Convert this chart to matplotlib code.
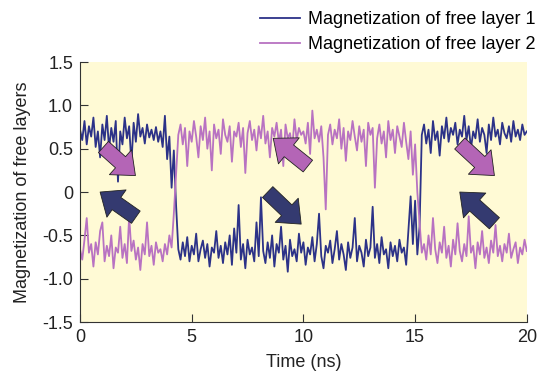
import matplotlib
matplotlib.use("Agg")
import matplotlib.pyplot as plt
from matplotlib.patches import FancyArrowPatch
import numpy as np

plt.rcParams['font.family'] = ['Liberation Sans', 'DejaVu Sans']

# time axis (ns), 0.1 ns steps
time_ns = np.arange(201) / 10.0

# free layer 1
m1 = [0.72, 0.60, 0.82, 0.55, 0.76, 0.64, 0.86, 0.52, 0.70, 0.40,
      0.78, 0.60, 0.88, 0.50, 0.74, 0.58, 0.82, 0.12, 0.70, 0.55,
      0.86, 0.62, 0.76, 0.33, 0.80, 0.58, 0.90, 0.64, 0.74, 0.56,
      0.78, 0.63, 0.72, 0.60, 0.75, 0.58, 0.70, 0.52, 0.88, 0.38,
      0.64, 0.05, 0.48, -0.15, -0.66, -0.78, -0.58, -0.74, -0.52, -0.80,
      -0.62, -0.72, -0.48, -0.80, -0.66, -0.56, -0.76, -0.60, -0.86, -0.64,
      -0.70, -0.45, -0.76, -0.62, -0.82, -0.58, -0.72, -0.50, -0.84, -0.42,
      -0.70, -0.15, -0.78, -0.60, -0.88, -0.55, -0.72, -0.64, -0.80, -0.35,
      -0.74, -0.06, -0.68, -0.82, -0.58, -0.76, -0.50, -0.86, -0.60, -0.70,
      -0.40, -0.78, -0.62, -0.92, -0.55, -0.74, -0.66, -0.80, -0.48, -0.70,
      -0.58, -0.84, -0.64, -0.72, -0.52, -0.80, -0.60, -0.25, -0.74, -0.88,
      -0.62, -0.70, -0.56, -0.82, -0.66, -0.45, -0.78, -0.60, -0.72, -0.90,
      -0.58, -0.76, -0.64, -0.30, -0.80, -0.62, -0.70, -0.86, -0.55, -0.74,
      -0.64, -0.17, -0.76, -0.60, -0.82, -0.52, -0.72, -0.66, -0.88, -0.58,
      -0.74, -0.62, -0.80, -0.55, -0.70, -0.64, -0.84, -0.45, -0.05, -0.60,
      -0.10, -0.72, -0.40, 0.66, 0.78, 0.56, 0.72, 0.45, 0.82, 0.60,
      0.70, 0.42, 0.76, 0.62, 0.86, 0.58, 0.74, 0.66, 0.80, 0.55,
      0.72, 0.64, 0.88, 0.60, 0.76, 0.50, 0.70, 0.62, 0.84, 0.58,
      0.74, 0.66, 0.45, 0.78, 0.60, 0.86, 0.64, 0.72, 0.55, 0.80,
      0.68, 0.62, 0.76, 0.58, 0.82, 0.64, 0.72, 0.60, 0.78, 0.66,
      0.70]

# free layer 2
m2 = [-0.66, -0.78, -0.55, -0.30, -0.70, -0.60, -0.86, -0.58, -0.72, -0.45,
      -0.35, -0.80, -0.62, -0.74, -0.50, -0.88, -0.64, -0.70, -0.40, -0.76,
      -0.60, -0.82, -0.28, -0.68, -0.56, -0.78, -0.64, -0.90, -0.60, -0.72,
      -0.35, -0.74, -0.62, -0.84, -0.58, -0.70, -0.66, -0.80, -0.60, -0.72,
      -0.50, -0.64, -0.25, 0.20, 0.66, 0.78, 0.55, 0.74, 0.30, 0.70,
      0.58, 0.82, 0.64, 0.40, 0.76, 0.60, 0.86, 0.50, 0.70, 0.25,
      0.78, 0.62, 0.72, 0.44, 0.84, 0.66, 0.58, 0.76, 0.35, 0.70,
      0.64, 0.80, 0.52, 0.74, 0.22, 0.68, 0.82, 0.60, 0.72, 0.48,
      0.76, 0.62, 0.88, 0.56, 0.70, 0.40, 0.74, 0.64, 0.80, 0.58,
      0.72, 0.30, 0.78, 0.62, 0.68, 0.50, 0.84, 0.60, 0.74, 0.66,
      0.70, 0.56, 0.80, 0.44, 0.94, 0.62, 0.72, 0.58, 0.76, 0.40,
      -0.20, 0.66, 0.78, 0.55, 0.72, 0.62, 0.84, 0.50, 0.74, 0.36,
      0.70, 0.60, 0.82, 0.64, 0.48, 0.76, 0.58, 0.72, 0.30, 0.80,
      0.66, 0.74, 0.05, 0.62, 0.78, 0.56, 0.70, 0.40, 0.82, 0.60,
      0.72, 0.45, 0.76, 0.64, 0.52, 0.80, 0.58, 0.38, 0.70, 0.20,
      0.55, 0.00, -0.35, -0.70, -0.60, -0.78, -0.50, -0.72, -0.30, -0.66,
      -0.82, -0.58, -0.70, -0.40, -0.76, -0.62, -0.86, -0.55, -0.72, -0.36,
      -0.68, -0.80, -0.60, -0.74, -0.28, -0.70, -0.62, -0.88, -0.58, -0.72,
      -0.45, -0.76, -0.64, -0.82, -0.56, -0.70, -0.38, -0.74, -0.62, -0.80,
      -0.60, -0.70, -0.48, -0.76, -0.66, -0.58, -0.82, -0.64, -0.72, -0.55,
      -0.68]

labels = ['Magnetization of free layer 1', 'Magnetization of free layer 2']
xticks = [0, 5, 10, 15, 20]
yticks = [-1.5, -1.0, -0.5, 0, 0.5, 1.0, 1.5]
ytick_labels = ['-1.5', '-1.0', '-0.5', '0', '0.5', '1.0', '1.5']

# block arrows: (tail t, tail m, head t, head m, colour)
arrows = [
    (1.05, 0.52, 2.48, 0.19, '#b465b6'),
    (2.50, -0.29, 0.90, 0.00, '#343a70'),
    (10.2, 0.30, 8.65, 0.62, '#b465b6'),
    (8.40, 0.00, 9.90, -0.37, '#343a70'),
    (17.0, 0.56, 18.55, 0.19, '#b465b6'),
    (18.55, -0.36, 17.0, 0.00, '#343a70'),
]

fig = plt.figure(figsize=(5.37, 3.74), dpi=100)
ax = fig.add_axes([0.149, 0.139, 0.832, 0.695])
ax.set_facecolor('#fffad5')

l1, = ax.plot(time_ns, m1, color='#2c3288', lw=1.3)
l2, = ax.plot(time_ns, m2, color='#b872c2', lw=1.3)

for x0, y0, x1, y1, c in arrows:
    ax.add_patch(FancyArrowPatch((x0, y0), (x1, y1),
                                 arrowstyle='simple,head_length=0.6,head_width=1.0,tail_width=0.45',
                                 mutation_scale=24, shrinkA=0, shrinkB=0,
                                 facecolor=c, edgecolor='#222222', lw=0.6, zorder=5))

ax.set_xlim(0, 20)
ax.set_ylim(-1.5, 1.5)
ax.set_xticks(xticks)
ax.set_yticks(yticks)
ax.set_yticklabels(ytick_labels)
ax.tick_params(direction='in', length=6, labelsize=13, color='#333333',
               labelcolor='#222222', pad=5)
for s in ['top', 'right']:
    ax.spines[s].set_visible(False)
ax.spines['left'].set_color('#333333')
ax.spines['bottom'].set_color('#333333')
ax.set_xlabel('Time (ns)', fontsize=13, color='#222222', labelpad=6)
ax.set_ylabel('Magnetization of free layers', fontsize=13, color='#222222', labelpad=8)

fig.legend([l1, l2], labels, loc='upper right', bbox_to_anchor=(1.0, 0.975),
           frameon=False, fontsize=13, handlelength=2.2, handletextpad=0.45,
           labelspacing=0.45, borderaxespad=0, borderpad=0.1)

fig.savefig('out.png', dpi=100)
